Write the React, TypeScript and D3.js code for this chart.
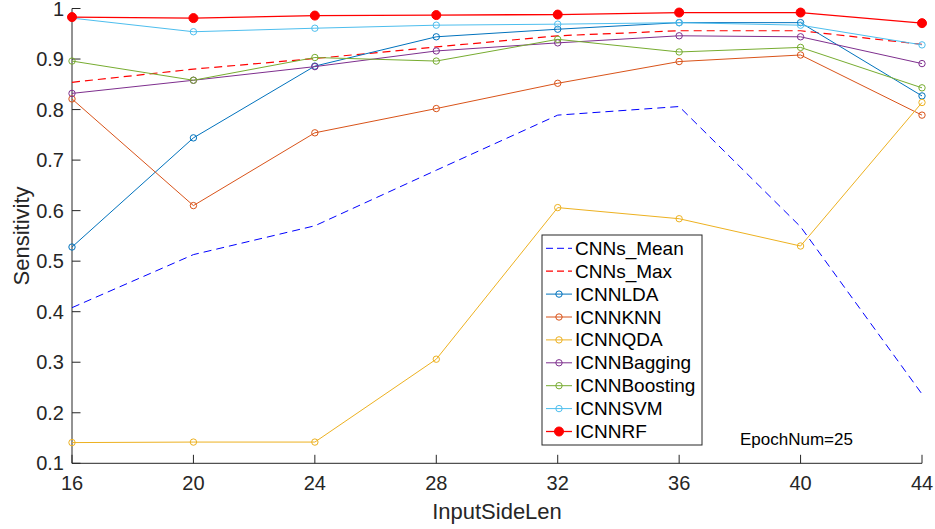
import React from "react";
import * as d3 from "d3";

const xValues = [16, 20, 24, 28, 32, 36, 40, 44];
const yTicks = [0.1, 0.2, 0.3, 0.4, 0.5, 0.6, 0.7, 0.8, 0.9, 1];

const cnnsMean = [0.408, 0.513, 0.570, 0.680, 0.789, 0.806, 0.568, 0.237];
const cnnsMax = [0.854, 0.880, 0.901, 0.924, 0.946, 0.956, 0.956, 0.929];
const icnnLDA = [0.528, 0.744, 0.886, 0.944, 0.959, 0.972, 0.972, 0.827];
const icnnKNN = [0.821, 0.610, 0.754, 0.802, 0.852, 0.895, 0.908, 0.789];
const icnnQDA = [0.141, 0.142, 0.142, 0.306, 0.606, 0.584, 0.530, 0.814];
const icnnBagging = [0.832, 0.858, 0.885, 0.916, 0.932, 0.946, 0.944, 0.891];
const icnnBoosting = [0.896, 0.858, 0.903, 0.896, 0.939, 0.914, 0.923, 0.843];
const icnnSVM = [0.981, 0.954, 0.961, 0.967, 0.969, 0.972, 0.967, 0.928];
const icnnRF = [0.983, 0.981, 0.986, 0.987, 0.988, 0.992, 0.992, 0.971];

type S = { name: string; values: number[]; color: string; dash?: string; marker: "none" | "open" | "filled"; width: number };

const series: S[] = [
  { name: "CNNs_Mean", values: cnnsMean, color: "#0000FF", dash: "8,5", marker: "none", width: 1 },
  { name: "CNNs_Max", values: cnnsMax, color: "#FF0000", dash: "8,5", marker: "none", width: 1.2 },
  { name: "ICNNLDA", values: icnnLDA, color: "#0072BD", marker: "open", width: 1 },
  { name: "ICNNKNN", values: icnnKNN, color: "#D95319", marker: "open", width: 1 },
  { name: "ICNNQDA", values: icnnQDA, color: "#EDB120", marker: "open", width: 1 },
  { name: "ICNNBagging", values: icnnBagging, color: "#7E2F8E", marker: "open", width: 1 },
  { name: "ICNNBoosting", values: icnnBoosting, color: "#77AC30", marker: "open", width: 1 },
  { name: "ICNNSVM", values: icnnSVM, color: "#4DBEEE", marker: "open", width: 1 },
  { name: "ICNNRF", values: icnnRF, color: "#FF0000", marker: "filled", width: 1.3 },
];

const W = 935, H = 529;
const left = 72, right = 922, top = 8.5, bottom = 463.3;
const font = "'Liberation Sans', Arial, Helvetica, sans-serif";
const axisColor = "#262626";

export default function App() {
  const x = d3.scaleLinear().domain([16, 44]).range([left, right]);
  const y = d3.scaleLinear().domain([0.1, 1]).range([bottom, top]);
  const line = d3.line<number>().x((_, i) => x(xValues[i])).y((v) => y(v));

  const legX = 542, legY = 235, legW = 160, legH = 210, rowH = 22.9, row0 = 248.3;

  return (
    <svg width={W} height={H} style={{ position: "absolute", left: 0, top: 0, background: "#fff" }} fontFamily={font}>
      <rect x={0} y={0} width={W} height={H} fill="#fff" />
      {/* axes */}
      <line x1={left} y1={bottom} x2={right} y2={bottom} stroke={axisColor} strokeWidth={1} />
      <line x1={left} y1={top} x2={left} y2={bottom} stroke={axisColor} strokeWidth={1} />
      {xValues.map((t) => (
        <g key={"xt" + t}>
          <line x1={x(t)} x2={x(t)} y1={bottom} y2={bottom - 8.5} stroke={axisColor} />
          <text x={x(t)} y={483} fontSize={20} fill={axisColor} textAnchor="middle" dominantBaseline="central">{t}</text>
        </g>
      ))}
      {yTicks.map((t) => (
        <g key={"yt" + t}>
          <line x1={left} x2={left + 8.5} y1={y(t)} y2={y(t)} stroke={axisColor} />
          <text x={64} y={y(t)} fontSize={20} fill={axisColor} textAnchor="end" dominantBaseline="central">{String(t)}</text>
        </g>
      ))}
      <text x={(left + right) / 2} y={511.5} fontSize={22} fill={axisColor} textAnchor="middle" dominantBaseline="central">InputSideLen</text>
      <text transform={`translate(21,${(top + bottom) / 2}) rotate(-90)`} fontSize={22} fill={axisColor} textAnchor="middle" dominantBaseline="central">Sensitivity</text>

      {/* series */}
      {series.map((s) => (
        <g key={s.name}>
          <path d={line(s.values) || ""} fill="none" stroke={s.color} strokeWidth={s.width} strokeDasharray={s.dash} />
          {s.marker !== "none" && s.values.map((v, i) => (
            <circle key={i} cx={x(xValues[i])} cy={y(v)} r={s.marker === "filled" ? 4.5 : 3.2}
              fill={s.marker === "filled" ? s.color : "none"} stroke={s.color} strokeWidth={1} />
          ))}
        </g>
      ))}

      {/* legend */}
      <rect x={legX} y={legY} width={legW} height={legH} fill="#fff" stroke="#262626" strokeWidth={1} />
      {series.map((s, i) => {
        const cy = row0 + i * rowH;
        return (
          <g key={"lg" + s.name}>
            <line x1={546} x2={572} y1={cy} y2={cy} stroke={s.color} strokeWidth={s.width} strokeDasharray={s.dash ? "7,4" : undefined} />
            {s.marker !== "none" && (
              <circle cx={559} cy={cy} r={s.marker === "filled" ? 4.5 : 3.2} fill={s.marker === "filled" ? s.color : "none"} stroke={s.color} />
            )}
            <text x={575} y={cy} fontSize={19} fill="#000" dominantBaseline="central">{s.name}</text>
          </g>
        );
      })}
      <text x={740} y={439} fontSize={17} fill="#000" dominantBaseline="central">EpochNum=25</text>
    </svg>
  );
}
